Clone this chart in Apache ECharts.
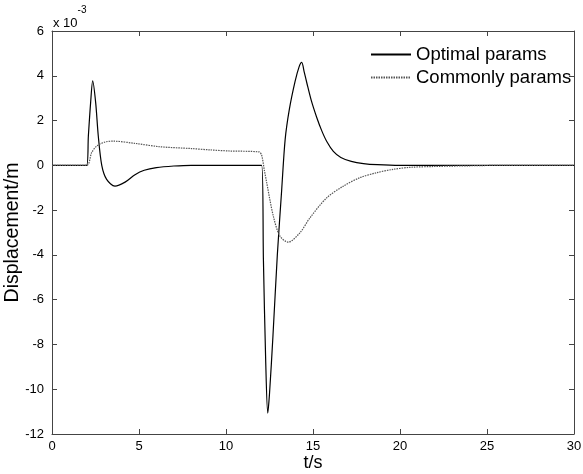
<!DOCTYPE html>
<html>
<head>
<meta charset="utf-8">
<script src="https://cdn.jsdelivr.net/npm/echarts@6/dist/echarts.min.js"></script>
<style>
  html, body { margin: 0; padding: 0; background: #fff; }
  #main { width: 583px; height: 474px; }
</style>
</head>
<body>
<div id="main"></div>
<script>
var myChart = echarts.init(document.getElementById('main'));

// values in units of 1e-3 m
var optT = [0, 1.99, 2.09, 2.22, 2.34, 2.51, 2.66, 2.86, 3.14, 3.62, 4.2, 4.77, 5.3, 6, 7, 8, 12.05, 12.15, 12.28, 12.4, 12.5, 12.7, 12.95, 13.2, 13.4, 13.64, 13.97, 14.2, 14.35, 14.5, 14.64, 14.9, 15.21, 15.5, 15.8, 16.17, 16.6, 17.2, 17.9, 18.7, 20, 30];
var optV = [0, 0, 1.31, 2.8, 3.77, 2.8, 1.31, 0, -0.63, -0.93, -0.75, -0.42, -0.22, -0.1, -0.03, 0, 0, -4.2, -8.7, -11.07, -10.2, -7.6, -4.0, -1.1, 1.16, 2.5, 3.75, 4.4, 4.6, 4.15, 3.7, 2.9, 2.15, 1.55, 1.05, 0.62, 0.35, 0.18, 0.08, 0.03, 0, 0];

var comT = [0, 1.99, 2.28, 2.57, 3.05, 3.52, 4.77, 6.2, 8, 9.08, 10.23, 11.9, 12.05, 12.2, 12.34, 12.72, 13.1, 13.58, 14.25, 14.83, 15.79, 16.74, 17.7, 18.66, 19.6, 20.57, 22, 24, 26, 30];
var comV = [0, 0, 0.57, 0.86, 1.04, 1.08, 0.98, 0.83, 0.75, 0.69, 0.64, 0.6, 0.45, -0.2, -0.78, -2.27, -3.16, -3.43, -3.01, -2.34, -1.45, -0.93, -0.55, -0.33, -0.18, -0.09, -0.05, -0.02, 0, 0];

var seriesNames = ['Optimal params', 'Commonly params'];

function pairs(t, v) {
    var res = [];
    for (var i = 0; i < t.length; i++) {
        res.push([t[i], v[i]]);
    }
    return res;
}

var axisColor = '#444';
var font = 'Liberation Sans, Arial, sans-serif';

var option = {
    backgroundColor: '#fff',
    animation: false,
    textStyle: { fontFamily: font },
    grid: { left: 52, right: 9, top: 31, bottom: 40, outerBoundsMode: 'none', containLabel: false },
    legend: {
        data: seriesNames,
        orient: 'vertical',
        left: 370,
        top: 45,
        padding: 0,
        itemWidth: 40,
        itemHeight: 10,
        itemGap: 4,
        itemStyle: { opacity: 0 },
        textStyle: { fontSize: 18.5, color: '#000', fontFamily: font }
    },
    xAxis: [{
        type: 'value',
        min: 0, max: 30, interval: 5,
        name: 't/s',
        nameLocation: 'middle',
        nameGap: 20,
        nameMoveOverlap: false,
        nameTextStyle: { fontSize: 18, color: '#000' },
        axisLine: { onZero: false, lineStyle: { color: axisColor } },
        axisTick: { inside: true, length: 5, lineStyle: { color: axisColor } },
        axisLabel: { fontSize: 13, color: '#000', margin: 6 },
        splitLine: { show: false }
    }, {
        type: 'value',
        position: 'top',
        min: 0, max: 30, interval: 5,
        axisLine: { show: true, onZero: false, lineStyle: { color: axisColor } },
        axisTick: { show: true, inside: true, length: 5, lineStyle: { color: axisColor } },
        axisLabel: { show: false },
        splitLine: { show: false }
    }],
    yAxis: [{
        type: 'value',
        min: -12, max: 6, interval: 2,
        name: 'Displacement/m',
        nameLocation: 'middle',
        nameGap: 29,
        nameMoveOverlap: false,
        nameTextStyle: { fontSize: 19.5, color: '#000' },
        axisLine: { show: true, onZero: false, lineStyle: { color: axisColor } },
        axisTick: { show: true, inside: true, length: 5, lineStyle: { color: axisColor } },
        axisLabel: { fontSize: 13, color: '#000', margin: 8 },
        splitLine: { show: false }
    }, {
        type: 'value',
        position: 'right',
        min: -12, max: 6, interval: 2,
        axisLine: { show: true, onZero: false, lineStyle: { color: axisColor } },
        axisTick: { show: true, inside: true, length: 5, lineStyle: { color: axisColor } },
        axisLabel: { show: false },
        splitLine: { show: false }
    }],
    graphic: [{
        type: 'text',
        left: 53,
        top: 5,
        style: {
            text: '{a|x 10}{b|-3}',
            rich: {
                a: { fontSize: 13, fontFamily: font, fill: '#000', padding: [12, 0, 0, 0] },
                b: { fontSize: 10, fontFamily: font, fill: '#000', verticalAlign: 'top' }
            }
        }
    }],
    series: [{
        name: seriesNames[0],
        type: 'line',
        data: pairs(optT, optV),
        smooth: 0.3,
        symbol: 'none',
        lineStyle: { color: '#000', width: 1.2 }
    }, {
        name: seriesNames[1],
        type: 'line',
        data: pairs(comT, comV),
        smooth: 0.3,
        symbol: 'none',
        lineStyle: { color: '#555', width: 1.2, type: [1.5, 1] }
    }]
};

myChart.setOption(option);
</script>
</body>
</html>
